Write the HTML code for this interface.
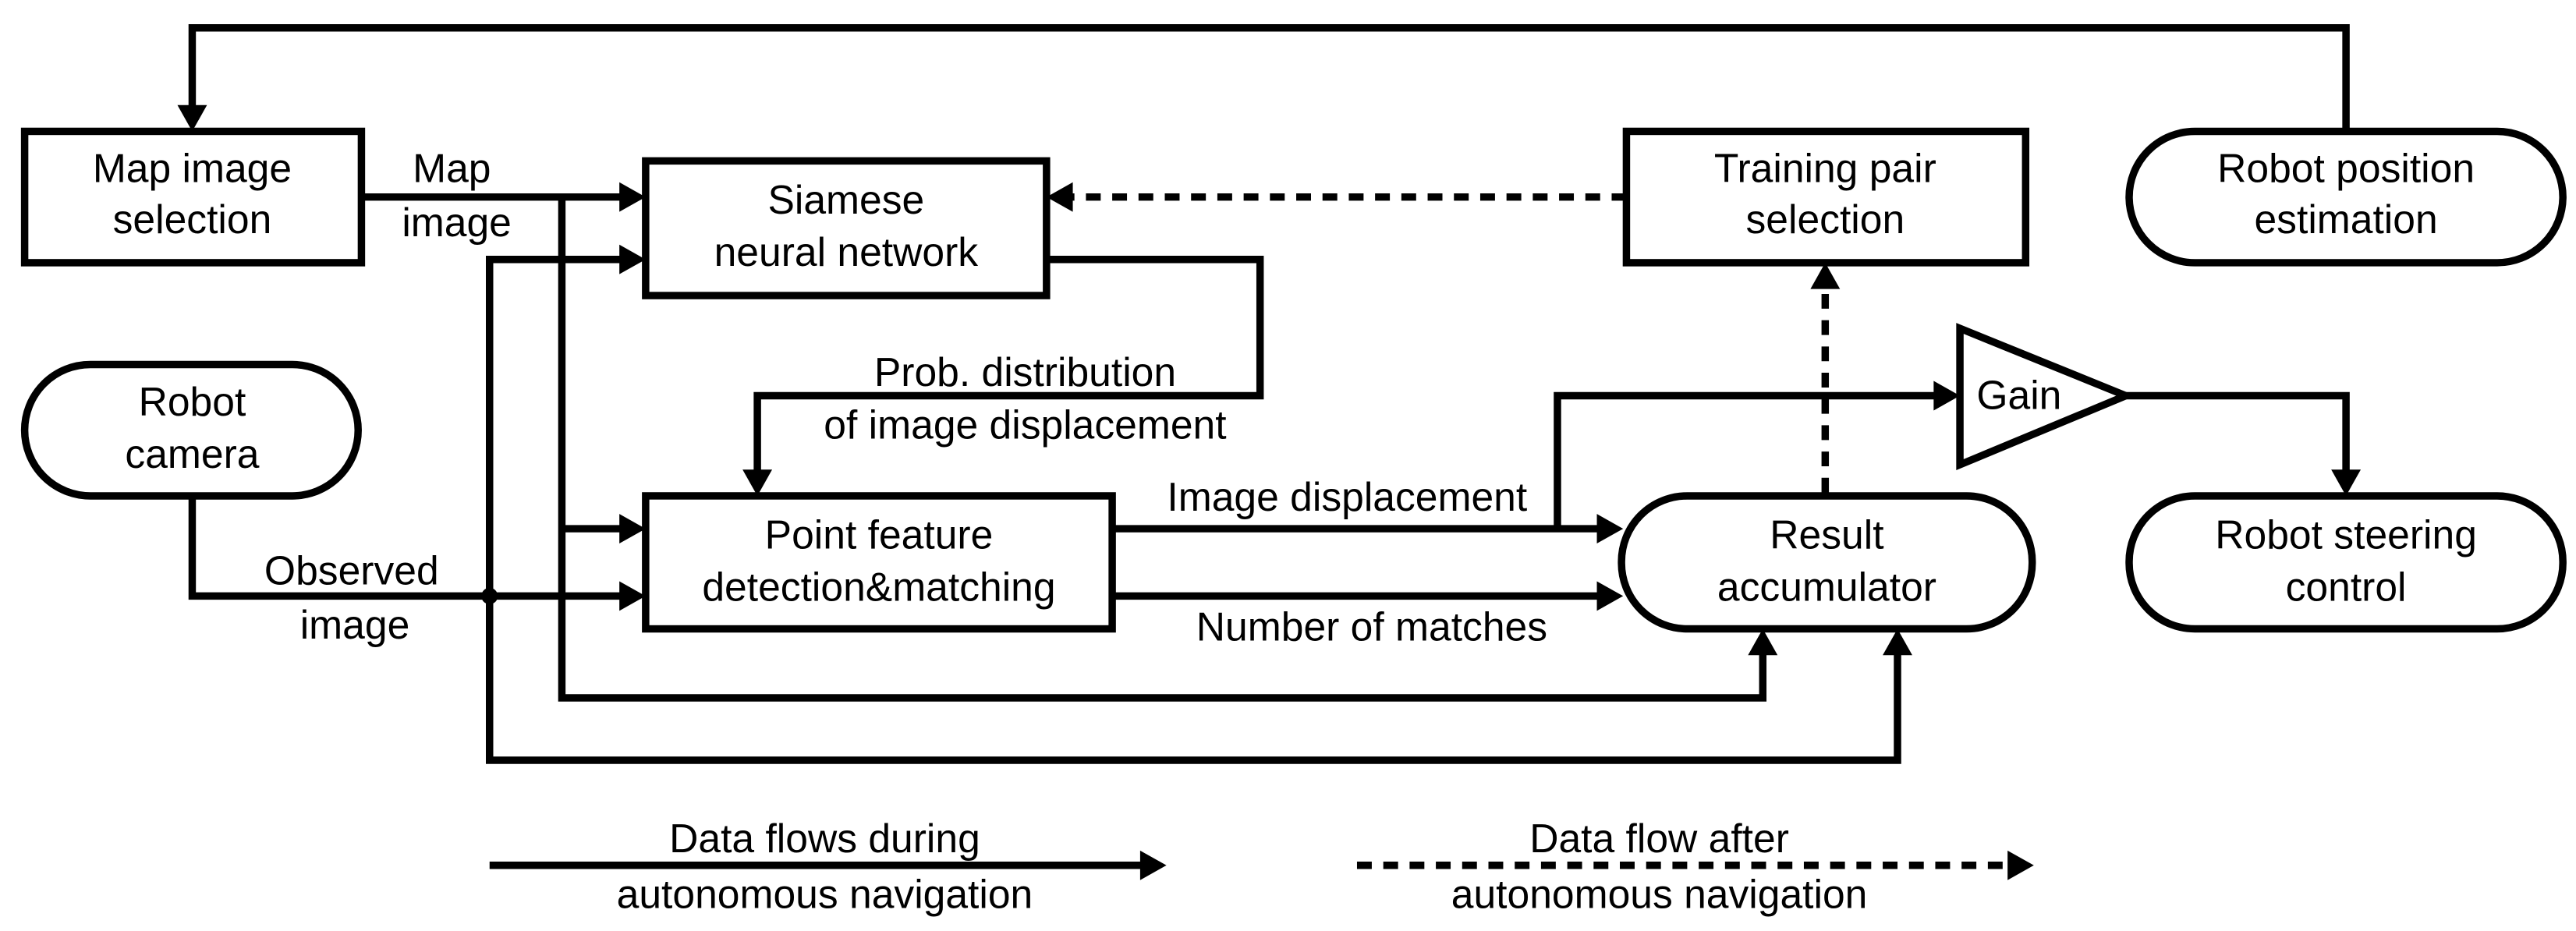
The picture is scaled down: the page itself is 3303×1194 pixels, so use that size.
<!DOCTYPE html>
<html><head><style>html,body{margin:0;padding:0;background:#fff;}svg{display:block}</style></head>
<body>
<svg width="3303" height="1194" viewBox="0 0 1568 567" preserveAspectRatio="none" xmlns="http://www.w3.org/2000/svg">
<g fill="none" stroke="#000" stroke-width="4.5">
<rect x="15" y="80" width="205" height="80"/>
<rect x="393" y="98" width="244" height="82"/>
<rect x="990" y="80" width="243" height="80"/>
<rect x="1296" y="80" width="264" height="80" rx="40"/>
<rect x="15" y="222" width="203" height="80" rx="40"/>
<rect x="393" y="302" width="284" height="81"/>
<rect x="987" y="302" width="250" height="81" rx="40"/>
<rect x="1296" y="302" width="264" height="81" rx="40"/>
<polygon points="1193,200 1193,283 1294,241"/>
<polyline points="1428,80 1428,17 117,17 117,66"/>
<polyline points="220,120 380,120"/>
<polyline points="342,120 342,425 1073,425 1073,397"/>
<polyline points="342,322 380,322"/>
<polyline points="117,302 117,363 380,363"/>
<polyline points="380,158 298,158 298,463 1155,463 1155,397"/>
<polyline points="637,158 767,158 767,241 461,241 461,289"/>
<polyline points="677,322 975,322"/>
<polyline points="948,322 948,241 1180,241"/>
<polyline points="677,363 975,363"/>
<polyline points="1294,241 1428,241 1428,289"/>
<polyline points="298,527 697,527"/>
<g stroke-dasharray="9,7">
<polyline points="1111,300 1111,174"/>
<polyline points="990,120 651,120"/>
<polyline points="826,527 1225,527"/>
</g>
</g>
<g fill="#000">
<polygon points="108,64 126,64 117,80"/>
<polygon points="377,111 393,120 377,129"/>
<polygon points="377,149 393,158 377,167"/>
<polygon points="377,313 393,322 377,331"/>
<polygon points="377,354 393,363 377,372"/>
<polygon points="452,286 470,286 461,302"/>
<polygon points="972,313 988,322 972,331"/>
<polygon points="972,354 988,363 972,372"/>
<polygon points="1064,399 1082,399 1073,383"/>
<polygon points="1146,399 1164,399 1155,383"/>
<polygon points="1102,176 1120,176 1111,160"/>
<polygon points="653,111 637,120 653,129"/>
<polygon points="1177,232 1193,241 1177,250"/>
<polygon points="1419,286 1437,286 1428,302"/>
<polygon points="694,518 710,527 694,536"/>
<polygon points="1222,518 1238,527 1222,536"/>
<circle cx="298" cy="363" r="5"/>
</g>
<g font-family="Liberation Sans, Arial, sans-serif" font-size="24.5" text-anchor="middle" fill="#000">
<text x="117" y="111">Map image</text><text x="117" y="142">selection</text>
<text x="515" y="130">Siamese</text><text x="515" y="162">neural network</text>
<text x="1111" y="111">Training pair</text><text x="1111" y="142">selection</text>
<text x="1428" y="111">Robot position</text><text x="1428" y="142">estimation</text>
<text x="117" y="253">Robot</text><text x="117" y="285">camera</text>
<text x="535" y="334">Point feature</text><text x="535" y="366">detection&amp;matching</text>
<text x="1112" y="334">Result</text><text x="1112" y="366">accumulator</text>
<text x="1428" y="334">Robot steering</text><text x="1428" y="366">control</text>
<text x="1229" y="249">Gain</text>
<text x="275" y="111">Map</text><text x="278" y="144">image</text>
<text x="214" y="356">Observed</text><text x="216" y="389">image</text>
<text x="624" y="235">Prob. distribution</text><text x="624" y="267">of image displacement</text>
<text x="820" y="311">Image displacement</text>
<text x="835" y="390">Number of matches</text>
<text x="502" y="519">Data flows during</text><text x="502" y="553">autonomous navigation</text>
<text x="1010" y="519">Data flow after</text><text x="1010" y="553">autonomous navigation</text>
</g>
</svg>
</body></html>
